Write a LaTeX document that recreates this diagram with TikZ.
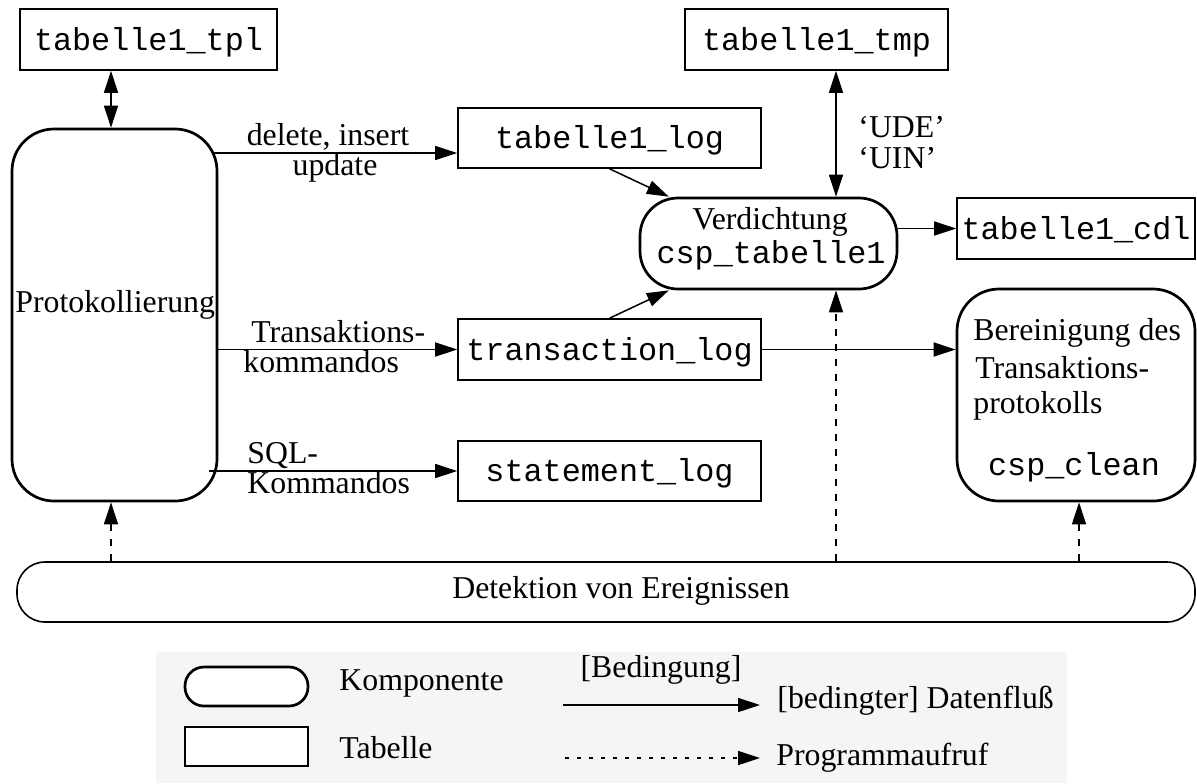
\documentclass[tikz,border=0pt]{standalone}
\usepackage{fontspec}
\setmainfont{Liberation Serif}
\setmonofont{Liberation Mono}
\usetikzlibrary{arrows.meta,calc}
\definecolor{legbg}{RGB}{245,245,245}
\begin{document}
\begin{tikzpicture}[x=0.5pt,y=-0.5pt,
  every node/.style={font=\fontsize{15.9pt}{19pt}\selectfont, inner sep=0pt},
  mono/.style={font=\fontsize{15.9pt}{19pt}\selectfont\ttfamily},
  tbl/.style={draw, line width=0.8pt, fill=white, mono, text height=12pt, text depth=1.5pt},
  comp/.style={draw, line width=1.35pt, rounded corners=21pt},
  flow/.style={line width=0.75pt, -{Triangle[length=11pt,width=7pt]}},
  bflow/.style={line width=0.75pt, {Triangle[length=11pt,width=7pt]}-{Triangle[length=11pt,width=7pt]}},
  call/.style={flow, dash pattern=on 3.5pt off 4pt},
  lbl/.style={anchor=base},
  lblw/.style={anchor=base west}]
\useasboundingbox (0,0) rectangle (1197,783);
\fill[legbg] (156,652) rectangle (1067,783);

% tables
\node[tbl, minimum width=128.5pt, minimum height=30.5pt] (tpl) at (148.5,39.5) {tabelle1\_tpl};
\node[tbl, minimum width=151.5pt, minimum height=30pt] (log) at (609.5,138) {tabelle1\_log};
\node[tbl, minimum width=131.5pt, minimum height=30.5pt] (tmp) at (816.5,39.5) {tabelle1\_tmp};
\node[tbl, minimum width=119pt, minimum height=30.5pt] (cdl) at (1076,228.5) {tabelle1\_cdl};
\node[tbl, minimum width=151.5pt, minimum height=30.5pt] (tr) at (609.5,349.5) {transaction\_log};
\node[tbl, minimum width=151.5pt, minimum height=30pt] (st) at (609.5,471) {statement\_log};

% components
\node[comp, minimum width=102.5pt, minimum height=186pt] (P) at (114.5,315) {};
\node[lblw] (Pt) at (15,312) {Protokollierung};
\node[comp, rounded corners=19pt, minimum width=128.5pt, minimum height=45.5pt] (V) at (768.5,243.5) {};
\node[lbl] (Vt1) at (770,229) {Verdichtung};
\node[lbl, mono] (Vt2) at (771,263) {csp\_tabelle1};
\node[comp, minimum width=119pt, minimum height=106pt] (B) at (1076,395) {};
\node[lblw] (Bt1) at (973,340) {Bereinigung des};
\node[lblw] (Bt2) at (975,378) {Transaktions-};
\node[lblw] (Bt3) at (973,413) {protokolls};
\node[lbl, mono] (Bt4) at (1074,475) {csp\_clean};
\node[draw, line width=0.8pt, rounded corners=14pt, minimum width=589pt, minimum height=30pt] (D) at (606,592) {};
\node[lbl] (Dt) at (621,598) {Detektion von Ereignissen};

% labels
\node[lbl] (l1a) at (328,145) {delete, insert};
\node[lbl] (l1b) at (335,175) {update};
\node[lblw] (l2a) at (251,342) {Transaktions-};
\node[lblw] (l2b) at (243,372) {kommandos};
\node[lblw] (l3a) at (247,463) {SQL-};
\node[lblw] (l3b) at (247,493) {Kommandos};
\node[lblw] (u1) at (858,137) {`UDE'};
\node[lblw] (u2) at (858,168) {`UIN'};

% helper coordinates
\coordinate (c111) at (111,0);
\coordinate (c836) at (836,0);
\coordinate (c1079) at (1079,0);
\coordinate (y153) at (0,153);
\path (P.east) ++(-4,0) coordinate (Pe);
\path (P.east) ++(-9,0) coordinate (Pe2);

% connectors
\draw[bflow] (c111 |- tpl.south) -- (c111 |- P.north);
\draw[flow] (Pe |- y153) -- (log.west |- y153);
\draw[flow] (P.east |- tr.west) -- (tr.west);
\draw[flow] (Pe2 |- st.west) -- (st.west);
\draw[flow] (log.south) -- (V);
\draw[flow] (tr.north) -- (V);
\draw[bflow] (c836 |- tmp.south) -- (c836 |- V.north);
\draw[flow] (V.east |- cdl.west) -- (cdl.west);
\draw[flow] (tr.east) -- (tr.east -| B.west);
\draw[call] (c111 |- D.north) -- (c111 |- P.south);
\draw[call] (c836 |- D.north) -- (c836 |- V.south);
\draw[call] (c1079 |- D.north) -- (c1079 |- B.south);

% legend
\node[comp, rounded corners=9.5pt, fill=white, minimum width=61.5pt, minimum height=19.5pt] (LK) at (246.5,686.5) {};
\node[draw, line width=0.8pt, fill=white, minimum width=61.5pt, minimum height=19.5pt] (LT) at (246.5,746.5) {};
\node[lblw] (LKt) at (339,690) {Komponente};
\node[lblw] (LTt) at (339,758) {Tabelle};
\coordinate (La1) at (563,705);
\coordinate (La2) at (760,705);
\draw[flow] (La1) -- (La2);
\node[lbl] (LBed) at (661,677) {[Bedingung]};
\node[lblw] (LDf) at (777,708) {[bedingter] Datenfluß};
\coordinate (Lb1) at (565,758);
\coordinate (Lb2) at (760,758);
\draw[flow, dash pattern=on 2pt off 4pt] (Lb1) -- (Lb2);
\node[lblw] (LPa) at (776,765) {Programmaufruf};
\end{tikzpicture}
\end{document}
